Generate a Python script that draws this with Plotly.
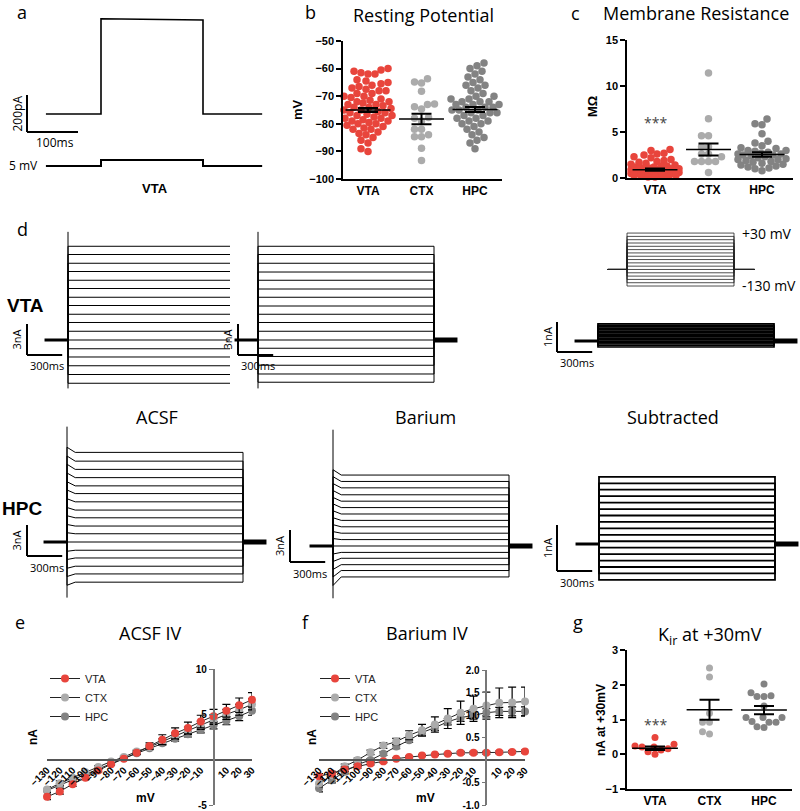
import plotly.graph_objects as go

W, H = 800, 811
SANS = 'Open Sans'
ARIAL = 'Liberation Sans'

RED = '#E8453C'
LIGHT = '#ABABAB'
DARK = '#838383'
GROUPS = ['VTA', 'CTX', 'HPC']
GROUP_COLORS = [RED, LIGHT, DARK]

# ---- a: 5 mV test pulse (VTA) ----
A_PULSE_MS = 200
A_PRE_MS = 108
A_POST_MS = 116
A_STEP_PA = [515, 508]
A_STEP_MV = 5

# ---- b: resting potential (mV) ----
RP_VTA = [-60, -60.5, -61, -61.5, -62, -62, -64, -64.5, -65, -65.5, -66, -66.5, -67, -67.5, -68, -68,
          -69, -69, -70, -70, -70.5, -71, -71.5, -72, -72, -72.5, -73, -73, -73.5, -74, -74, -74.5,
          -75, -75, -75.5, -76, -76, -76.5, -77, -77, -77.5, -78, -78, -78.5, -79, -79, -79.5, -80,
          -80, -80.5, -81, -81.5, -82, -82, -83, -83.5, -84, -85, -86, -87, -89, -90]
RP_CTX = [-63.7, -64.9, -65.2, -68.2, -72.8, -73.0, -73.8, -74.6, -77.7, -78.0, -79.0, -82.0, -82.0,
          -84.0, -84.7, -84.7, -88.9, -93.3]
RP_HPC = [-58, -59, -60, -61, -62, -63, -64, -65, -66, -66, -67, -68, -69, -70, -70, -71, -71, -72,
          -72, -72, -73, -73, -73, -74, -74, -74, -75, -75, -75, -76, -76, -76, -77, -77, -78, -78,
          -79, -79, -80, -80, -81, -82, -83, -84, -85, -86, -87, -89]
RP_MEAN = [-75.0, -78.3, -74.8]
RP_SEM = [0.7, 1.9, 0.9]

# ---- c: membrane resistance (MOhm) ----
RM_VTA = [3.1, 3.0, 2.7, 2.6, 2.5, 2.3, 2.2, 2.0, 1.9, 1.8, 1.7, 1.6, 1.5, 1.4, 1.3, 1.3, 1.2, 1.2,
          1.1, 1.1, 1.0, 1.0, 1.0, 0.9, 0.9, 0.9, 0.8, 0.8, 0.8, 0.7, 0.7, 0.7, 0.6, 0.6, 0.6, 0.5,
          0.5, 0.5, 0.5, 0.4, 0.4, 0.4, 0.3, 0.3, 0.3, 0.2, 0.2, 0.2, 0.1, 0.1]
RM_CTX = [11.4, 6.45, 4.6, 4.6, 3.4, 3.4, 2.6, 2.6, 2.3, 1.8, 1.8, 1.8, 1.8, 0.6]
RM_HPC = [6.4, 5.9, 5.8, 4.8, 4.0, 3.8, 3.5, 3.3, 3.2, 3.0, 3.0, 2.9, 2.8, 2.7, 2.6, 2.6, 2.5, 2.5,
          2.4, 2.3, 2.2, 2.1, 2.0, 2.0, 1.9, 1.8, 1.7, 1.6, 1.5, 1.4, 1.3, 1.2, 1.1, 1.0, 0.8]
RM_MEAN = [0.9, 3.1, 2.55]
RM_SEM = [0.12, 0.65, 0.25]

# ---- d: step protocol and whole-cell currents (nA), steps -130..+30 mV ----
STEP_MV = [-130, -120, -110, -100, -90, -80, -70, -60, -50, -40, -30, -20, -10, 0, 10, 20, 30]
HOLD_MV = -80
STEP_MS = 1500
PRE_MS = 200
POST_MS = 200
PROTO_PRE_MS = 270
PROTO_POST_MS = 290
VTA_ACSF_NA = [-4.2, -3.35, -2.5, -1.65, -0.85, 0.0, 0.85, 1.7, 2.5, 3.35, 4.15, 5.0, 5.8, 6.65, 7.45, 8.3, 9.1]
VTA_ACSF_TRANSIENT = [-4.7, 10.5]
VTA_BA_NA = [-4.1, -3.3, -2.45, -1.6, -0.8, 0.0, 0.85, 1.7, 2.5, 3.3, 4.15, 4.95, 5.8, 6.6, 7.45, 8.3, 9.1]
VTA_BA_TRANSIENT = [-4.7, 10.5]
VTA_SUB_NA = [-0.2, -0.15, -0.1, -0.06, -0.01, 0.04, 0.09, 0.14, 0.18, 0.23, 0.28, 0.33, 0.38, 0.42, 0.47, 0.52, 0.57]
HPC_ACSF_NA = [-3.9, -3.1, -2.35, -1.55, -0.8, 0.0, 0.8, 1.55, 2.35, 3.1, 3.9, 4.7, 5.45, 6.25, 7.05, 7.85, 8.7]
HPC_ACSF_ONSET_NA = [-0.3, -0.25, -0.2, -0.15, -0.1, 0.0, 0.1, 0.15, 0.2, 0.25, 0.3, 0.35, 0.4, 0.45, 0.5, 0.5, 0.5]
HPC_ACSF_TRANSIENT = [-5.4, 11.2]
HPC_BA_NA = [-2.9, -2.3, -1.75, -1.15, -0.6, 0.0, 0.6, 1.2, 1.8, 2.4, 3.0, 3.6, 4.2, 4.8, 5.45, 6.05, 6.65]
HPC_BA_ONSET_NA = [-0.8, -0.6, -0.45, -0.3, -0.15, 0.0, 0.1, 0.15, 0.2, 0.25, 0.3, 0.35, 0.35, 0.4, 0.4, 0.45, 0.5]
HPC_BA_TRANSIENT = [-4.9, 10.9]
HPC_SUB_NA = [-0.78, -0.64, -0.5, -0.36, -0.22, -0.08, 0.06, 0.2, 0.34, 0.48, 0.62, 0.76, 0.9, 1.04, 1.18, 1.32, 1.46]
ONSET_MS = 70

# ---- e/f: IV curves (nA) ----
IV_MV = STEP_MV
ACSF_VTA = [-4.1, -3.5, -2.7, -2.0, -1.2, -0.5, 0.1, 0.75, 1.5, 2.2, 2.9, 3.5, 4.2, 4.8, 5.4, 6.0, 6.6]
ACSF_VTA_SEM = [0.3, 0.3, 0.25, 0.2, 0.15, 0.1, 0.1, 0.2, 0.35, 0.55, 0.6, 0.65, 0.7, 0.75, 0.7, 0.8, 0.8]
ACSF_CTX = [-3.3, -2.6, -2.0, -1.4, -0.8, -0.2, 0.3, 0.9, 1.4, 2.0, 2.6, 3.2, 3.8, 4.4, 5.0, 5.5, 6.1]
ACSF_CTX_SEM = [0.3, 0.25, 0.2, 0.2, 0.15, 0.1, 0.1, 0.15, 0.2, 0.3, 0.35, 0.4, 0.45, 0.5, 0.55, 0.6, 0.6]
ACSF_HPC = [-3.4, -2.8, -2.2, -1.6, -1.0, -0.4, 0.15, 0.7, 1.25, 1.8, 2.3, 2.8, 3.3, 3.8, 4.3, 4.8, 5.4]
ACSF_HPC_SEM = [0.2, 0.2, 0.2, 0.15, 0.1, 0.1, 0.1, 0.1, 0.15, 0.2, 0.25, 0.3, 0.35, 0.4, 0.45, 0.5, 0.5]
BA_VTA = [-0.36, -0.3, -0.21, -0.14, -0.08, -0.03, 0.03, 0.065, 0.1, 0.12, 0.14, 0.16, 0.16, 0.16, 0.17, 0.18, 0.19]
BA_VTA_SEM = [0.06, 0.05, 0.05, 0.04, 0.03, 0.03, 0.02, 0.02, 0.02, 0.02, 0.02, 0.03, 0.03, 0.03, 0.03, 0.03, 0.03]
BA_CTX = [-0.52, -0.34, -0.14, 0.0, 0.17, 0.32, 0.41, 0.55, 0.66, 0.79, 0.92, 1.05, 1.14, 1.21, 1.27, 1.28, 1.30]
BA_CTX_SEM = [0.08, 0.07, 0.05, 0.04, 0.05, 0.06, 0.07, 0.1, 0.13, 0.17, 0.22, 0.26, 0.28, 0.3, 0.33, 0.34, 0.32]
BA_HPC = [-0.63, -0.45, -0.26, -0.1, 0.0, 0.14, 0.3, 0.44, 0.61, 0.72, 0.85, 0.94, 0.99, 1.05, 1.08, 1.08, 1.08]
BA_HPC_SEM = [0.08, 0.06, 0.05, 0.04, 0.03, 0.04, 0.05, 0.05, 0.06, 0.06, 0.07, 0.08, 0.08, 0.09, 0.09, 0.1, 0.1]

# ---- g: Kir current at +30 mV (nA) ----
KIR_VTA = [0.48, 0.29, 0.24, 0.21, 0.21, 0.16, 0.12, 0.07, 0.0]
KIR_CTX = [2.48, 2.22, 1.18, 0.92, 0.92, 0.65, 0.58]
KIR_HPC = [2.02, 1.77, 1.68, 1.66, 1.66, 1.39, 1.06, 1.06, 1.06, 0.94, 0.92, 0.92, 0.79, 0.77]
KIR_MEAN = [0.17, 1.28, 1.27]
KIR_SEM = [0.05, 0.29, 0.12]


fig = go.Figure()
axes_layout = {}
shapes = []
annotations = []
n_axes = [0]


def add_axes(box, xr, yr, xa_extra=None, ya_extra=None):
    n_axes[0] += 1
    s = '' if n_axes[0] == 1 else str(n_axes[0])
    L, T, R, B = box
    xa = dict(domain=[max(L, 0) / W, min(R, W) / W], range=xr, anchor='y' + s, visible=False,
              showgrid=False, zeroline=False, automargin=False)
    ya = dict(domain=[1 - min(B, H) / H, 1 - max(T, 0) / H], range=yr, anchor='x' + s, visible=False,
              showgrid=False, zeroline=False, automargin=False)
    if xa_extra:
        xa.update(xa_extra)
    if ya_extra:
        ya.update(ya_extra)
    axes_layout['xaxis' + s] = xa
    axes_layout['yaxis' + s] = ya
    return 'x' + s, 'y' + s


def pixel_axes(L, T, R, B, xo, yo, sx, sy):
    # xo, yo: pixel of data origin; sx, sy: pixels per data unit
    L, T, R, B = max(L, 0), max(T, 0), min(R, W), min(B, H)
    xr = [(L - xo) / sx, (R - xo) / sx]
    yr = [(yo - B) / sy, (yo - T) / sy]
    return add_axes((L, T, R, B), xr, yr)


def text(px, py, s, size=12, bold=False, family=SANS, angle=0, xanchor='center', color='black'):
    annotations.append(dict(x=px / W, y=1 - py / H, xref='paper', yref='paper', text=s, showarrow=False,
                            font=dict(family=family, size=size, color=color,
                                      weight='bold' if bold else 'normal'),
                            textangle=angle, xanchor=xanchor, yanchor='middle'))


def scale_bar(xr_, yr_, xo, yo, sx, sy, cx, cy, t_len, i_len, t_lbl, i_lbl, size=11):
    t0 = (cx - xo) / sx
    i0 = (yo - cy) / sy
    for x0, y0, x1, y1 in [(t0, i0, t0, i0 + i_len), (t0, i0, t0 + t_len, i0)]:
        shapes.append(dict(type='line', xref=xr_, yref=yr_, x0=x0, y0=y0, x1=x1, y1=y1,
                           line=dict(color='black', width=2)))
    text(cx - 10, cy - i_len * sy / 2, i_lbl, size=size, angle=-90)
    text(cx + t_len * sx / 2 + 2, cy + 11, t_lbl, size=size)


def line(xr_, yr_, x, y, width=1.0, color='black'):
    fig.add_trace(go.Scatter(x=x, y=y, xaxis=xr_, yaxis=yr_, mode='lines', showlegend=False,
                             hoverinfo='skip', line=dict(color=color, width=width)))


# ================= a =================
SXA = 0.51
xr_, yr_ = pixel_axes(15, 8, 270, 140, xo=101, yo=114, sx=SXA, sy=0.185)
line(xr_, yr_, [-A_PRE_MS, 0, 0, A_PULSE_MS, A_PULSE_MS, A_PULSE_MS + A_POST_MS],
     [0, 0, A_STEP_PA[0], A_STEP_PA[1], 0, 0], width=1.6)
scale_bar(xr_, yr_, 101, 114, SXA, 0.185, 27, 132, 100, 200, '100ms', '200pA', size=12)
xr_, yr_ = pixel_axes(15, 150, 270, 178, xo=101, yo=166, sx=SXA, sy=1.2)
line(xr_, yr_, [-A_PRE_MS, 0, 0, A_PULSE_MS, A_PULSE_MS, A_PULSE_MS + A_POST_MS],
     [0, 0, A_STEP_MV, A_STEP_MV, 0, 0], width=2)
text(23, 165, '5 mV', size=12)
text(155, 188, 'VTA', size=13, bold=True, family=ARIAL)

# ================= d =================
SX = 176 / STEP_MS


def sweeps(levels, onset=None):
    xs, ys = [], []
    for k, lv in enumerate(levels):
        if onset is None:
            xs += [0, 0, STEP_MS, STEP_MS, None]
            ys += [0, lv, lv, 0, None]
        else:
            xs += [0, 0, ONSET_MS, STEP_MS, STEP_MS, None]
            ys += [0, lv + onset[k], lv, lv, 0, None]
    return xs, ys


trace_panels = [
    # levels, onset, transient, xo, yo, sy, scale-bar corner, bar nA, width
    (VTA_ACSF_NA, None, VTA_ACSF_TRANSIENT, 68, 340, 10.3, (27, 355), 3, 1.0),
    (VTA_BA_NA, None, VTA_BA_TRANSIENT, 258, 340, 10.3, (238, 355), 3, 1.0),
    (VTA_SUB_NA, None, None, 598, 341, 30.0, (557, 352), 1, 1.7),
    (HPC_ACSF_NA, HPC_ACSF_ONSET_NA, HPC_ACSF_TRANSIENT, 67, 542, 10.3, (27, 556), 3, 1.0),
    (HPC_BA_NA, HPC_BA_ONSET_NA, HPC_BA_TRANSIENT, 333, 546, 10.67, (290, 562), 3, 1.0),
    (HPC_SUB_NA, None, None, 599, 544, 46.0, (557, 571), 1, 1.8),
]
for levels, onset, trans, xo, yo, sy, (cx, cy), bar_na, lw in trace_panels:
    lo = min(levels + (trans or [0]))
    hi = max(levels + (trans or [0]))
    xr_, yr_ = pixel_axes(cx - 8, yo - hi * sy - 6, xo + (STEP_MS + POST_MS) * SX + 6,
                          max(cy, yo - lo * sy) + 6, xo, yo, SX, sy)
    xs, ys = sweeps(levels, onset)
    line(xr_, yr_, xs, ys, width=lw)
    if trans:
        line(xr_, yr_, [0, 0], trans, width=1.0)
    line(xr_, yr_, [-PRE_MS, 0], [0, 0], width=3)
    line(xr_, yr_, [STEP_MS, STEP_MS + POST_MS], [0, 0], width=5)
    scale_bar(xr_, yr_, xo, yo, SX, sy, cx, cy, 300, bar_na, '300ms', '%dnA' % bar_na)

# voltage protocol inset
SXP = 107 / STEP_MS
xr_, yr_ = pixel_axes(600, 225, 762, 295, xo=627, yo=243, sx=SXP, sy=0.331)
px, py = [], []
for v in STEP_MV:
    px += [-PROTO_PRE_MS, 0, 0, STEP_MS, STEP_MS, STEP_MS + PROTO_POST_MS, None]
    py += [HOLD_MV, HOLD_MV, v, v, HOLD_MV, HOLD_MV, None]
line(xr_, yr_, px, py, width=0.8, color='#222')
text(740, 233, '+30 mV', size=14, xanchor='left')
text(740, 285, '-130 mV', size=14, xanchor='left')

text(22, 229, 'd', size=18)
text(25, 305, 'VTA', size=19, bold=True, family=ARIAL)
text(22, 508, 'HPC', size=19, bold=True, family=ARIAL)
text(157, 417, 'ACSF', size=18)
text(425, 417, 'Barium', size=18)
text(673, 417, 'Subtracted', size=18)


# ================= b, c, g: dot plots =================
def swarm(values, py_per_unit, px_per_cat, dot=7.0, max_half=24):
    order = sorted(range(len(values)), key=lambda i: values[i])
    cands = sorted(range(-max_half, max_half + 1), key=abs)
    placed = []
    offs = [0.0] * len(values)
    for i in order:
        y = values[i] * py_per_unit
        best = None
        for c in cands:
            if all((c - qx) ** 2 + (y - qy) ** 2 >= dot * dot for qx, qy in placed):
                best = c
                break
        if best is None:
            best = max(cands, key=lambda c: min((c - qx) ** 2 + (y - qy) ** 2 for qx, qy in placed))
        placed.append((best, y))
        offs[i] = best / px_per_cat
    return offs


def dot_panel(box, xr, yr, tickvals, groups, means, sems, py_per_unit, px_per_cat, half_w, size=7.5,
              dot=7.0):
    tick_font = dict(family=ARIAL, size=11, color='black', weight='bold')
    xr_, yr_ = add_axes(box, xr, yr,
                        dict(visible=True, showline=True, linecolor='black', linewidth=1.5,
                             tickvals=[0, 1, 2], ticktext=GROUPS, ticks='',
                             tickfont=dict(family=ARIAL, size=12, color='black', weight='bold')),
                        dict(visible=True, showline=True, linecolor='black', linewidth=1.5,
                             tickvals=tickvals, ticks='outside', ticklen=5, tickwidth=1.5,
                             tickcolor='black', tickfont=tick_font))
    for k, vals in enumerate(groups):
        offs = swarm(vals, py_per_unit, px_per_cat, dot=dot, max_half=half_w)
        fig.add_trace(go.Scatter(x=[k + o for o in offs], y=vals, xaxis=xr_, yaxis=yr_, mode='markers',
                                 showlegend=False, cliponaxis=False,
                                 marker=dict(color=GROUP_COLORS[k], size=size, line=dict(width=0))))
    mx, my = [], []
    for k, m in enumerate(means):
        mx += [k - 0.42, k + 0.42, None]
        my += [m, m, None]
    line(xr_, yr_, mx, my, width=1.5)
    fig.add_trace(go.Scatter(x=[0, 1, 2], y=means, xaxis=xr_, yaxis=yr_, mode='markers', showlegend=False,
                             marker=dict(size=1, color='rgba(0,0,0,0)'),
                             error_y=dict(type='data', array=sems, color='black', thickness=2, width=10)))
    return xr_, yr_


dot_panel((343, 41, 502, 179), [-25 / 53.5, 134 / 53.5], [-100, -50],
          [-100, -90, -80, -70, -60, -50], [RP_VTA, RP_CTX, RP_HPC], RP_MEAN, RP_SEM, 2.76, 53.5, 24)
text(310, 12, 'b', size=18)
text(423, 15, 'Resting Potential', size=18)
text(297, 110, 'mV', size=13, bold=True, family=ARIAL, angle=-90)

dot_panel((627, 40, 793, 178), [-28 / 53.5, 138 / 53.5], [0, 15],
          [0, 5, 10, 15], [RM_VTA, RM_CTX, RM_HPC], RM_MEAN, RM_SEM, 9.2, 53.5, 24)
text(575, 13, 'c', size=18)
text(696, 13, 'Membrane Resistance', size=18)
text(593, 107, 'M\u03a9', size=13, bold=True, family=ARIAL, angle=-90)
text(655, 123, '***', size=14, color='#444')

dot_panel((627, 650, 792, 789), [-28 / 54.5, 137 / 54.5], [-1, 3],
          [-1, 0, 1, 2, 3], [KIR_VTA, KIR_CTX, KIR_HPC], KIR_MEAN, KIR_SEM, 34.6, 54.5, 22, size=7)
text(578, 622, 'g', size=18)
text(710, 635, 'K<sub>ir</sub> at +30mV', size=18)
text(601, 720, 'nA at +30mV', size=12, bold=True, family=ARIAL, angle=-90)
text(655, 724, '***', size=14, color='#444')


# ================= e, f: IV curves =================
def iv_panel(box, yr, ytickvals, ytext, series, legend_name):
    L, T, R, B = box
    x0px = L + (0 - (-130)) / 160 * (R - L)
    y0px = B - (0 - yr[0]) / (yr[1] - yr[0]) * (B - T)
    xticks = [v for v in IV_MV if v != 0]
    xr_, yr_ = add_axes(box, [-130, 30], yr,
                        dict(visible=True, showline=True, linecolor='#555', linewidth=1.5, anchor='free',
                             position=1 - y0px / H, tickvals=xticks, tickangle=-45, ticks='',
                             tickfont=dict(family=ARIAL, size=10, color='black', weight='bold')),
                        dict(visible=True, showline=True, linecolor='#777', linewidth=1.5, anchor='free',
                             position=x0px / W, tickvals=ytickvals, ticktext=ytext, ticks='outside',
                             ticklen=4, tickwidth=1.2, tickcolor='#777',
                             tickfont=dict(family=ARIAL, size=10, color='black', weight='bold')))
    for rank, (name, vals, sem, color) in series:
        fig.add_trace(go.Scatter(x=IV_MV, y=vals, xaxis=xr_, yaxis=yr_, name=name, mode='lines+markers',
                                 legend=legend_name, legendrank=rank, cliponaxis=False,
                                 line=dict(color='#222', width=1),
                                 marker=dict(color=color, size=8, line=dict(width=0)),
                                 error_y=dict(type='data', array=sem, color='black', thickness=1.2,
                                              width=4)))


iv_panel((47, 669, 252, 805), [-5, 10], [-5, 5, 10], ['-5', '5', '10'],
         [(3, ('HPC', ACSF_HPC, ACSF_HPC_SEM, DARK)), (2, ('CTX', ACSF_CTX, ACSF_CTX_SEM, LIGHT)),
          (1, ('VTA', ACSF_VTA, ACSF_VTA_SEM, RED))], 'legend')
text(20, 622, 'e', size=18)
text(150, 633, 'ACSF IV', size=18)
text(33, 737, 'nA', size=12, bold=True, family=ARIAL, angle=-90)
text(145, 798, 'mV', size=12, bold=True, family=ARIAL)

iv_panel((319, 670, 525, 805), [-1, 2], [-1, -0.5, 0.5, 1, 1.5, 2],
         ['-1.0', '-0.5', '0.5', '1.0', '1.5', '2.0'],
         [(3, ('HPC', BA_HPC, BA_HPC_SEM, DARK)), (2, ('CTX', BA_CTX, BA_CTX_SEM, LIGHT)),
          (1, ('VTA', BA_VTA, BA_VTA_SEM, RED))], 'legend2')
text(305, 622, 'f', size=18)
text(427, 633, 'Barium IV', size=18)
text(312, 737, 'nA', size=12, bold=True, family=ARIAL, angle=-90)
text(425, 798, 'mV', size=12, bold=True, family=ARIAL)

text(22, 12, 'a', size=18)

legend_style = dict(xanchor='left', yanchor='top', bgcolor='rgba(0,0,0,0)', itemwidth=30,
                    tracegroupgap=0, font=dict(family=ARIAL, size=11, color='#222'))
fig.update_layout(
    width=W, height=H, margin=dict(l=0, r=0, t=0, b=0, pad=0, autoexpand=False),
    paper_bgcolor='white', plot_bgcolor='white',
    showlegend=True,
    legend=dict(x=45 / W, y=1 - 664 / H, **legend_style),
    legend2=dict(x=315 / W, y=1 - 664 / H, **legend_style),
    shapes=shapes, annotations=annotations,
    **axes_layout,
)

# the page body has a default 8px margin; drop it so the figure sits at the window's corner
fig.write_html("out.html", config={'displayModeBar': False},
               post_script="document.body.style.margin = '0';")
